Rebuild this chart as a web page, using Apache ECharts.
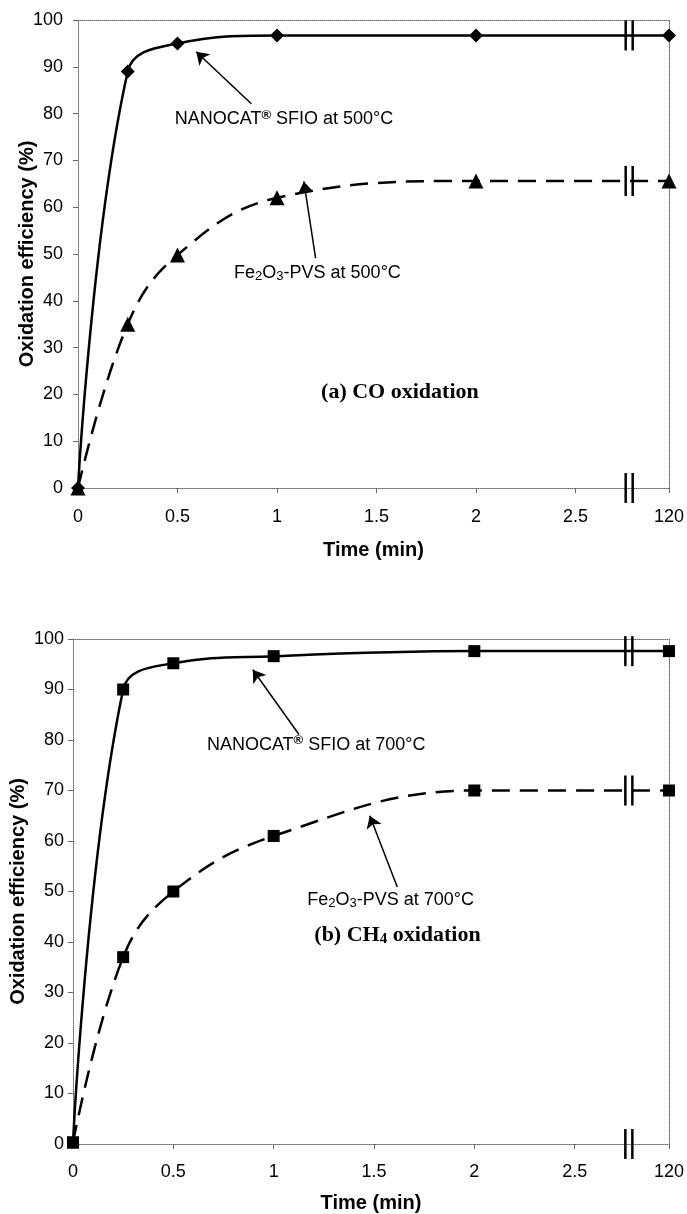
<!DOCTYPE html>
<html><head><meta charset="utf-8">
<script src="https://cdn.jsdelivr.net/npm/echarts@6/dist/echarts.min.js"></script>
<style>html,body{margin:0;padding:0;background:#fff}#c{width:687px;height:1214px}</style>
</head><body><div id="c"></div>
<script>
// ---- data ----
const timesMin = [0, 0.25, 0.5, 1, 2, 120];
const tickTimes = [0, 0.5, 1, 1.5, 2, 2.5, 120];
const tickLabels = ['0', '0.5', '1', '1.5', '2', '2.5', '120'];
const coSfio500 = [0, 89, 95, 96.7, 96.7, 96.7];
const coFe500 = [0, 35, 49.8, 62, 65.6, 65.6];
const ch4Sfio700 = [0.3, 90, 95.2, 96.6, 97.6, 97.6];
const ch4Fe700 = [0.3, 37, 50, 61, 70, 70];
const yTickMax = 100, yTickStep = 10;

// broken time axis: 120 min is drawn at the compressed end position
const AXIS_END = 2.97;
const BREAK_AT = 2.77;
function pos(t) { return t > AXIS_END ? AXIS_END : t; }
const tickPos = tickTimes.map(pos);
function labelFor(v) {
  const i = tickPos.findIndex(p => Math.abs(p - v) < 1e-6);
  return i >= 0 ? tickLabels[i] : '';
}

const SANS = "'Liberation Sans', Arial, sans-serif";
const SERIF = "'Liberation Serif', 'Times New Roman', serif";

const richSans = {
  n: { fontFamily: SANS, fontSize: 18, color: '#000', lineHeight: 21 },
  sup: { fontFamily: SANS, fontSize: 13, fontWeight: 'bold', color: '#000', lineHeight: 13, verticalAlign: 'top' },
  sub: { fontFamily: SANS, fontSize: 13, color: '#000', lineHeight: 13, verticalAlign: 'bottom' }
};
const richSerif = {
  b: { fontFamily: SERIF, fontSize: 22, fontWeight: 'bold', color: '#000', lineHeight: 24 },
  bs: { fontFamily: SERIF, fontSize: 15, fontWeight: 'bold', color: '#000', lineHeight: 14, verticalAlign: 'bottom' }
};

function xAxisMain(gi, nameGap, margin) {
  return {
    gridIndex: gi, type: 'value', min: 0, max: AXIS_END, position: 'bottom',
    axisLine: { show: true, onZero: false, lineStyle: { color: '#666', width: 1, type: 'dotted' } },
    axisTick: { show: true, inside: false, length: 5, customValues: tickPos, lineStyle: { color: '#666' } },
    axisLabel: { customValues: tickPos, formatter: labelFor, margin: margin, color: '#000', fontSize: 18, fontFamily: SANS },
    splitLine: { show: false },
    name: 'Time (min)', nameLocation: 'middle', nameGap: nameGap, nameMoveOverlap: false,
    nameTextStyle: { fontWeight: 'bold', fontSize: 20, fontFamily: SANS, color: '#000' }
  };
}
function xAxisTop(gi) {
  return {
    gridIndex: gi, type: 'value', min: 0, max: AXIS_END, position: 'top',
    axisLine: { show: true, onZero: false, lineStyle: { color: '#666', width: 1, type: 'dotted' } },
    axisTick: { show: false }, axisLabel: { show: false }, splitLine: { show: false }
  };
}
function yAxisMain(gi, nameGap, margin) {
  return {
    gridIndex: gi, type: 'value', min: 0, max: yTickMax, interval: yTickStep, position: 'left',
    axisLine: { show: true, onZero: false, lineStyle: { color: '#666', width: 1, type: 'dotted' } },
    axisTick: { show: true, inside: false, length: 5, lineStyle: { color: '#666' } },
    axisLabel: { margin: margin, color: '#000', fontSize: 18, fontFamily: SANS },
    splitLine: { show: false },
    name: 'Oxidation efficiency (%)', nameLocation: 'middle', nameGap: nameGap, nameMoveOverlap: false,
    nameTextStyle: { fontWeight: 'bold', fontSize: 20, fontFamily: SANS, color: '#000' }
  };
}
function yAxisRight(gi) {
  return {
    gridIndex: gi, type: 'value', min: 0, max: yTickMax, position: 'right',
    axisLine: { show: true, onZero: false, lineStyle: { color: '#666', width: 1, type: 'dotted' } },
    axisTick: { show: false }, axisLabel: { show: false }, splitLine: { show: false }
  };
}

function arrowLine(from, to) {
  return {
    silent: true, animation: false, symbol: ['none', 'arrow'], symbolSize: 12,
    lineStyle: { color: '#000', width: 1.5, type: 'solid' }, label: { show: false },
    itemStyle: { color: '#000' },
    emphasis: { disabled: true },
    data: [[{ coord: from }, { coord: to }]]
  };
}
function textPoint(items) {
  return {
    silent: true, animation: false, symbol: 'circle', symbolSize: 1,
    itemStyle: { color: 'rgba(0,0,0,0)' },
    data: items.map(it => ({
      coord: it.at,
      label: { show: true, position: 'right', distance: 0, formatter: it.text, rich: it.rich }
    }))
  };
}

function lineSeries(gi, vals, symbol, size, dashed, extra) {
  return Object.assign({
    type: 'line', xAxisIndex: gi * 2, yAxisIndex: gi * 2,
    data: timesMin.map((t, i) => [pos(t), vals[i]]),
    smooth: 0.4, symbol: symbol, symbolSize: size,
    lineStyle: { color: '#000', width: 2.5, type: dashed ? [18, 10] : 'solid' },
    itemStyle: { color: '#000' }, z: 3, animation: false
  }, extra || {});
}

function breakSeries(gi, ys) {
  return {
    type: 'custom', xAxisIndex: gi * 2, yAxisIndex: gi * 2, clip: false, silent: true, z: 6,
    data: ys.map(y => [BREAK_AT, y]),
    renderItem: function (params, api) {
      const p = api.coord([api.value(0), api.value(1)]);
      const h = 15, g = 3.5;
      return {
        type: 'group', children: [
          { type: 'line', shape: { x1: p[0] - g, y1: p[1] - h, x2: p[0] - g, y2: p[1] + h }, style: { stroke: '#000', lineWidth: 2.5 } },
          { type: 'line', shape: { x1: p[0] + g, y1: p[1] - h, x2: p[0] + g, y2: p[1] + h }, style: { stroke: '#000', lineWidth: 2.5 } }
        ]
      };
    }
  };
}

const chart = echarts.init(document.getElementById('c'), null, { renderer: 'canvas' });
chart.setOption({
  backgroundColor: '#fff',
  animation: false,
  grid: [
    { left: 78, top: 20, width: 595, height: 468 },
    { left: 72, top: 639, width: 606, height: 505 }
  ],
  xAxis: [xAxisMain(0, 52, 20), xAxisTop(0), xAxisMain(1, 49, 19), xAxisTop(1)],
  yAxis: [yAxisMain(0, 41, 15), yAxisRight(0), yAxisMain(1, 45, 9), yAxisRight(1)],
  series: [
    lineSeries(0, coSfio500, 'diamond', 14, false, {
      markLine: arrowLine([0.871, 82.1], [0.594, 93.2]),
      markPoint: textPoint([
        { at: [0.484, 78.8], text: '{n|NANOCAT}{sup|®}{n| SFIO at 500°C}', rich: richSans },
        { at: [1.219, 20.5], text: '{b|(a) CO oxidation}', rich: richSerif }
      ])
    }),
    lineSeries(0, coFe500, 'triangle', 15, true, {
      markLine: arrowLine([1.194, 49.1], [1.135, 65.5]),
      markPoint: textPoint([
        { at: [0.782, 46], text: '{n|Fe}{sub|2}{n|O}{sub|3}{n|-PVS at 500°C}', rich: richSans }
      ])
    }),
    breakSeries(0, [0, coSfio500[5], coFe500[5]]),
    lineSeries(1, ch4Sfio700, 'rect', 12, false, {
      markLine: arrowLine([1.126, 81.1], [0.896, 93.9]),
      markPoint: textPoint([
        { at: [0.665, 79.1], text: '{n|NANOCAT}{sup|®}{n| SFIO at 700°C}', rich: richSans },
        { at: [1.2, 41.4], text: '{b|(b) CH}{bs|4}{b| oxidation}', rich: richSerif }
      ])
    }),
    lineSeries(1, ch4Fe700, 'rect', 12, true, {
      markLine: arrowLine([1.616, 50.9], [1.479, 65.0]),
      markPoint: textPoint([
        { at: [1.165, 48.4], text: '{n|Fe}{sub|2}{n|O}{sub|3}{n|-PVS at 700°C}', rich: richSans }
      ])
    }),
    breakSeries(1, [0, ch4Sfio700[5], ch4Fe700[5]])
  ]
});
</script></body></html>
